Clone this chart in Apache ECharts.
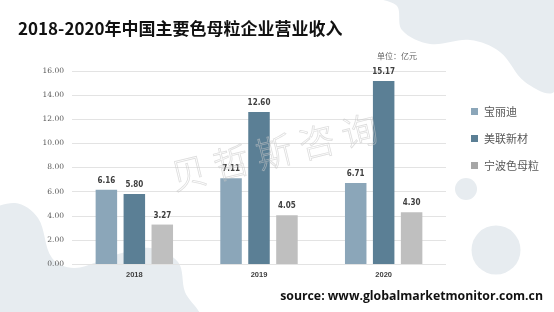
<!DOCTYPE html>
<html><head><meta charset="utf-8">
<script src="https://cdn.jsdelivr.net/npm/echarts@6/dist/echarts.min.js"></script>
<style>html,body{margin:0;padding:0;background:#fff}#c{width:554px;height:312px}</style>
</head><body><div id="c"></div>
<script>
const categories = ['2018', '2019', '2020'];
const seriesNames = ['宝丽迪', '美联新材', '宁波色母粒'];
const baolidi = [6.16, 7.11, 6.71];
const meilian = [5.80, 12.60, 15.17];
const ningbo = [3.27, 4.05, 4.30];
const yTicks = [0, 2, 4, 6, 8, 10, 12, 14, 16];
const colors = ['#8ba6b9', '#5b7f95', '#bfbfbf'];
const legendColors = ['#8ba6b9', '#5b7f95', '#a6a6a6'];
const values = [baolidi, meilian, ningbo];

const chart = echarts.init(document.getElementById('c'), null, {renderer: 'canvas'});
const blob = '#e7ecf0';
const option = {
  animation: false,
  backgroundColor: '#fff',
  graphic: [
    {type: 'polygon', z: -10, shape: {smooth: 0.35, points: [[358,-5],[396,5],[402,30],[430,44],[470,40],[500,52],[525,82],[554,92],[570,40],[560,-5]]}, style: {fill: blob}},
    {type: 'polygon', z: -10, shape: {smooth: 0.35, points: [[-10,215],[15,203],[38,218],[52,258],[75,268],[115,255],[150,248],[178,262],[185,292],[198,316],[-10,316]]}, style: {fill: blob}},
    {type: 'circle', z: -10, shape: {cx: 466, cy: 189, r: 11}, style: {fill: blob}},
    {type: 'circle', z: -10, shape: {cx: 496, cy: 250, r: 24.5}, style: {fill: blob}},
    {type: 'text', z: 100, left: 18, top: 20, style: {text: '2018-2020年中国主要色母粒企业营业收入', font: 'bold 17px "Noto Sans CJK SC", sans-serif', fill: '#111'}},
    {type: 'text', z: 100, left: 377, top: 52, style: {text: '单位：亿元', font: '8px "Noto Sans CJK SC", sans-serif', fill: '#666'}},
    {type: 'text', z: 100, right: 11, top: 290, style: {text: 'source: www.globalmarketmonitor.com.cn', font: 'bold 12.3px "Open Sans", "Liberation Sans", sans-serif', fill: '#111'}},
    {type: 'text', z: 100, x: 274, y: 152, rotation: 0.24, style: {text: '贝 哲 斯 咨 询', font: '300 36px "Noto Sans CJK SC", sans-serif', fill: 'rgba(255,255,255,0)', stroke: 'rgba(200,200,200,0.6)', lineWidth: 0.8, align: 'center', verticalAlign: 'middle'}}
  ],
  grid: {left: 72, right: 108, top: 71, bottom: 48},
  legend: {
    orient: 'vertical', left: 466, top: 101, itemWidth: 7, itemHeight: 7, itemGap: 16,
    icon: 'rect',
    textStyle: {fontSize: 11, color: '#595959', fontFamily: '"Noto Sans CJK SC", sans-serif', padding: [0, 0, 0, 1]},
    data: seriesNames.map((n, i) => ({name: n, itemStyle: {color: legendColors[i]}}))
  },
  xAxis: {
    type: 'category', data: categories,
    axisLine: {show: false}, axisTick: {show: false},
    axisLabel: {margin: 7, fontSize: 7.5, fontWeight: 'bold', color: '#404040', fontFamily: '"Liberation Sans", sans-serif'}
  },
  yAxis: {
    type: 'value', min: yTicks[0], max: yTicks[yTicks.length - 1], interval: yTicks[1] - yTicks[0],
    axisLine: {show: false}, axisTick: {show: false},
    splitLine: {lineStyle: {color: '#e3e3e3', width: 1}},
    axisLabel: {margin: 8, fontSize: 7.5, color: '#595959', fontFamily: '"DejaVu Serif", serif', formatter: v => v.toFixed(2)}
  },
  series: seriesNames.map((n, i) => ({
    name: n, type: 'bar', data: values[i], barWidth: 21.5, barGap: '30%',
    itemStyle: {color: colors[i]},
    label: {show: true, position: 'top', distance: 5, formatter: p => p.value.toFixed(2), fontSize: 8, fontWeight: 'bold', color: '#404040', fontFamily: '"Liberation Sans Narrow", "DejaVu Sans Condensed", sans-serif'}
  }))
};
chart.setOption(option);
</script></body></html>
